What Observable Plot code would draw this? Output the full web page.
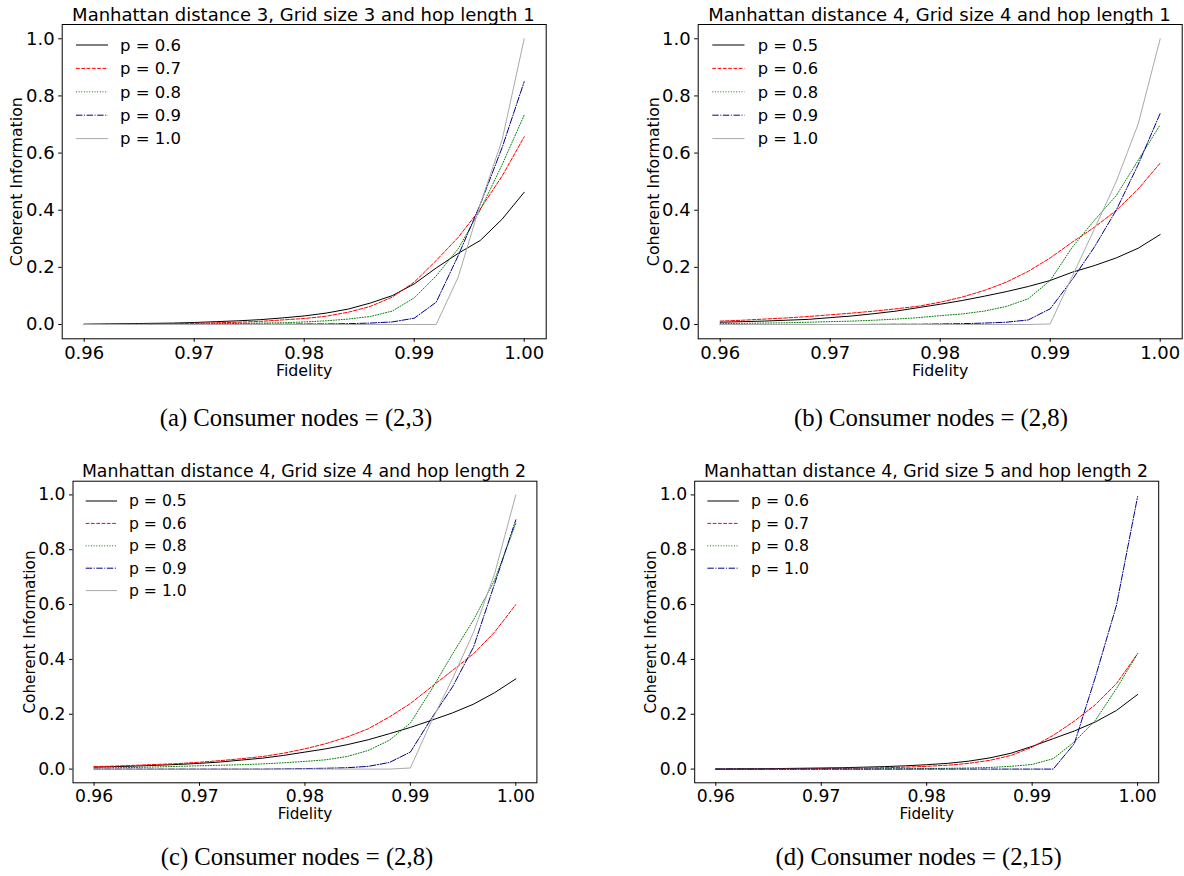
<!DOCTYPE html>
<html><head><meta charset="utf-8">
<script src="https://cdn.jsdelivr.net/npm/d3@7"></script>
<script src="https://cdn.jsdelivr.net/npm/@observablehq/plot@0.6"></script>
<style>
body{margin:0;background:#fff;}
#root{position:relative;width:1184px;height:876px;overflow:hidden;background:#fff;}
.panel{position:absolute;}
#overlay{position:absolute;left:0;top:0;pointer-events:none;}
</style></head>
<body><div id="root"></div>
<script>
// ---------- data ----------
const fidelity = [0.960,0.962,0.964,0.966,0.968,0.970,0.972,0.974,0.976,0.978,0.980,0.982,0.984,0.986,0.988,0.990,0.992,0.994,0.996,0.998,1.000];
const xTicks = [0.96,0.97,0.98,0.99,1.00];
const yTicks = [0,0.2,0.4,0.6,0.8,1.0];

// (a) Manhattan distance 3, grid 3, hop 1
const aTitle = "Manhattan distance 3, Grid size 3 and hop length 1";
const aCaption = "(a) Consumer nodes = (2,3)";
const aLabels = ["p = 0.6","p = 0.7","p = 0.8","p = 0.9","p = 1.0"];
const aP06 = [0.001,0.002,0.003,0.004,0.005,0.007,0.010,0.013,0.017,0.023,0.030,0.040,0.054,0.075,0.101,0.142,0.198,0.249,0.294,0.369,0.463];
const aP07 = [0.0005,0.001,0.001,0.002,0.003,0.004,0.006,0.008,0.011,0.016,0.021,0.029,0.043,0.063,0.096,0.148,0.224,0.305,0.404,0.520,0.657];
const aP08 = [0.0003,0.0005,0.001,0.001,0.0015,0.002,0.003,0.004,0.005,0.006,0.009,0.013,0.019,0.028,0.047,0.093,0.170,0.265,0.400,0.560,0.733];
const aP09 = [0,0,0,0,0,0,0.0005,0.001,0.001,0.001,0.002,0.002,0.003,0.005,0.009,0.022,0.078,0.241,0.420,0.620,0.850];
const aP10 = [0,0,0,0,0,0,0,0,0,0,0,0,0,0,0,0,0,0.166,0.420,0.647,1.000];

// (b) Manhattan distance 4, grid 4, hop 1
const bTitle = "Manhattan distance 4, Grid size 4 and hop length 1";
const bCaption = "(b) Consumer nodes = (2,8)";
const bLabels = ["p = 0.5","p = 0.6","p = 0.8","p = 0.9","p = 1.0"];
const bP05 = [0.008,0.010,0.012,0.015,0.018,0.024,0.030,0.038,0.047,0.059,0.071,0.084,0.099,0.115,0.133,0.154,0.183,0.206,0.233,0.267,0.315];
const bP06 = [0.012,0.015,0.019,0.023,0.028,0.034,0.040,0.047,0.055,0.064,0.078,0.096,0.119,0.148,0.186,0.233,0.288,0.340,0.399,0.474,0.565];
const bP08 = [0.003,0.004,0.005,0.006,0.008,0.010,0.012,0.015,0.019,0.024,0.031,0.037,0.047,0.063,0.090,0.154,0.270,0.364,0.451,0.575,0.699];
const bP09 = [0,0,0,0,0,0,0,0.0005,0.001,0.001,0.002,0.003,0.005,0.008,0.016,0.055,0.157,0.270,0.400,0.560,0.739];
const bP10 = [0,0,0,0,0,0,0,0,0,0,0,0,0,0,0,0.002,0.168,0.333,0.500,0.702,1.000];

// (c) Manhattan distance 4, grid 4, hop 2
const cTitle = "Manhattan distance 4, Grid size 4 and hop length 2";
const cCaption = "(c) Consumer nodes = (2,8)";
const cLabels = ["p = 0.5","p = 0.6","p = 0.8","p = 0.9","p = 1.0"];
const cP05 = [0.007,0.009,0.011,0.014,0.017,0.021,0.026,0.033,0.040,0.050,0.062,0.074,0.089,0.107,0.129,0.152,0.178,0.205,0.237,0.279,0.329];
const cP06 = [0.009,0.011,0.014,0.017,0.020,0.025,0.031,0.038,0.046,0.058,0.074,0.093,0.117,0.147,0.190,0.239,0.300,0.360,0.421,0.500,0.600];
const cP08 = [0.004,0.005,0.006,0.008,0.010,0.012,0.014,0.016,0.019,0.023,0.028,0.034,0.046,0.068,0.105,0.168,0.290,0.420,0.545,0.690,0.896];
const cP09 = [0,0,0,0,0,0,0,0,0,0.001,0.002,0.003,0.005,0.010,0.024,0.062,0.185,0.300,0.446,0.677,0.909];
const cP10 = [0,0,0,0,0,0,0,0,0,0,0,0,0,0,0,0.004,0.175,0.330,0.500,0.714,1.000];

// (d) Manhattan distance 4, grid 5, hop 2
const dTitle = "Manhattan distance 4, Grid size 5 and hop length 2";
const dCaption = "(d) Consumer nodes = (2,15)";
const dLabels = ["p = 0.6","p = 0.7","p = 0.8","p = 1.0"];
const dP06 = [0,0.001,0.001,0.002,0.003,0.004,0.005,0.007,0.009,0.012,0.016,0.021,0.029,0.041,0.058,0.083,0.111,0.139,0.172,0.214,0.272];
const dP07 = [0,0,0.0005,0.001,0.001,0.002,0.003,0.004,0.005,0.007,0.010,0.014,0.021,0.032,0.050,0.080,0.123,0.175,0.235,0.312,0.421];
const dP08 = [0,0,0,0,0,0,0,0,0.001,0.001,0.002,0.003,0.004,0.006,0.010,0.017,0.038,0.099,0.178,0.294,0.421];
const dP10 = [0,0,0,0,0,0,0,0,0,0,0,0,0,0,0,0,0,0.093,0.336,0.598,0.994];

// ---------- styles ----------
const S = {
  black: {color:"#000000", dash:null},
  red:   {color:"#ff0000", dash:"3.7,1.6"},
  green: {color:"#008000", dash:"1,1.65"},
  blue:  {color:"#00008b", dash:"6.4,1.6,1,1.6"},
  gray:  {color:"#a9a9a9", dash:null}
};

const panels = [
  {title:aTitle, caption:aCaption, labels:aLabels, values:[aP06,aP07,aP08,aP09,aP10], styles:[S.black,S.red,S.green,S.blue,S.gray],
   L:{left:0, top:0, w:590, h:400, ml:61.7, mr:44.3, mt:24, mb:61.7, ylabDx:-45, xlabDy:32.5},
   F:{tick:18, label:15.8, legend:16.5, title:18, caption:24.7},
   T:{x:303.4, y:20.7}, C:{x:296, y:426},
   G:{x1:76, x2:108, tx:120, y0:45, dy:23.4}},
  {title:bTitle, caption:bCaption, labels:bLabels, values:[bP05,bP06,bP08,bP09,bP10], styles:[S.black,S.red,S.green,S.blue,S.gray],
   L:{left:590, top:0, w:594, h:400, ml:107.7, mr:2.3, mt:24, mb:61.7, ylabDx:-44.7, xlabDy:32.5},
   F:{tick:18, label:15.8, legend:16.3, title:18, caption:24.7},
   T:{x:939.5, y:20.7}, C:{x:931, y:426},
   G:{x1:712.3, x2:744.5, tx:757.8, y0:45, dy:23.4}},
  {title:cTitle, caption:cCaption, labels:cLabels, values:[cP05,cP06,cP08,cP09,cP10], styles:[S.black,S.red,S.green,S.blue,S.gray],
   L:{left:0, top:440, w:590, h:400, ml:72.5, mr:53.6, mt:40.7, mb:57.7, ylabDx:-43, xlabDy:31},
   F:{tick:17.2, label:15.25, legend:15.6, title:17.3, caption:24.7},
   T:{x:304, y:476.7}, C:{x:297, y:865},
   G:{x1:85.7, x2:117, tx:129, y0:501, dy:22.4}},
  {title:dTitle, caption:dCaption, labels:dLabels, values:[dP06,dP07,dP08,dP10], styles:[S.black,S.red,S.green,S.blue],
   L:{left:590, top:440, w:594, h:400, ml:104.2, mr:25.8, mt:40.7, mb:57.7, ylabDx:-43.6, xlabDy:31},
   F:{tick:17.2, label:15.25, legend:15.7, title:17.3, caption:24.7},
   T:{x:926, y:476.7}, C:{x:918.6, y:865},
   G:{x1:707.4, x2:738.9, tx:751, y0:501, dy:22.4}}
];

const root = document.getElementById("root");
const fmtX = d3.format(".2f"), fmtY = d3.format(".1f");

for (const p of panels) {
  const L = p.L, F = p.F;
  const lineMarks = p.values.map((vals, i) => Plot.line(
    fidelity.map((f, j) => ({f, v: vals[j]})),
    {x:"f", y:"v", stroke:p.styles[i].color, strokeWidth:1, strokeDasharray:p.styles[i].dash, strokeLinejoin:"round"}
  ));
  const chart = Plot.plot({
    width:L.w, height:L.h,
    marginLeft:L.ml, marginRight:L.mr, marginTop:L.mt, marginBottom:L.mb,
    x:{domain:[0.958,1.002]},
    y:{domain:[-0.05,1.05]},
    style:{fontFamily:"DejaVu Sans", fontSize:"15px", background:"transparent", color:"#000", overflow:"visible"},
    marks:[
      ...lineMarks,
      Plot.frame({stroke:"#000", strokeWidth:1}),
      Plot.axisX({ticks:xTicks, tickSize:3.5, tickFormat:() => "", label:null}),
      Plot.axisY({ticks:yTicks, tickSize:3.5, tickFormat:() => "", label:null}),
      Plot.text(xTicks, {x:d=>d, text:d=>fmtX(d), frameAnchor:"bottom", lineAnchor:"top", textAnchor:"middle", dy:7, fontSize:F.tick}),
      Plot.text(yTicks, {y:d=>d, text:d=>fmtY(d), frameAnchor:"left", lineAnchor:"middle", textAnchor:"end", dx:-7.5, fontSize:F.tick}),
      Plot.text(["Fidelity"], {text:d=>d, frameAnchor:"bottom", lineAnchor:"middle", textAnchor:"middle", dy:L.xlabDy, fontSize:F.label}),
      Plot.text(["Coherent Information"], {text:d=>d, frameAnchor:"left", rotate:-90, lineAnchor:"middle", textAnchor:"middle", dx:L.ylabDx, fontSize:F.label})
    ]
  });
  chart.classList.add("panel");
  chart.style.left = L.left + "px";
  chart.style.top = L.top + "px";
  root.appendChild(chart);
}

// overlay with titles, captions and legends
const ov = d3.select(root).append("svg").attr("id","overlay").attr("width",1184).attr("height",876);
for (const p of panels) {
  ov.append("text").attr("x",p.T.x).attr("y",p.T.y).attr("text-anchor","middle")
    .attr("font-family","DejaVu Sans").attr("font-size",p.F.title).attr("fill","#000").text(p.title);
  ov.append("text").attr("x",p.C.x).attr("y",p.C.y).attr("text-anchor","middle")
    .attr("font-family","Liberation Serif, Times New Roman, serif").attr("font-size",p.F.caption).attr("fill","#000").text(p.caption);
  p.labels.forEach((lab, i) => {
    const y = p.G.y0 + i*p.G.dy;
    ov.append("line").attr("x1",p.G.x1).attr("x2",p.G.x2).attr("y1",y).attr("y2",y)
      .attr("stroke",p.styles[i].color).attr("stroke-width",1)
      .attr("stroke-dasharray",p.styles[i].dash);
    ov.append("text").attr("x",p.G.tx).attr("y",y).attr("dy","0.35em")
      .attr("font-family","DejaVu Sans").attr("font-size",p.F.legend).attr("fill","#000").text(lab);
  });
}
</script>
</body></html>
